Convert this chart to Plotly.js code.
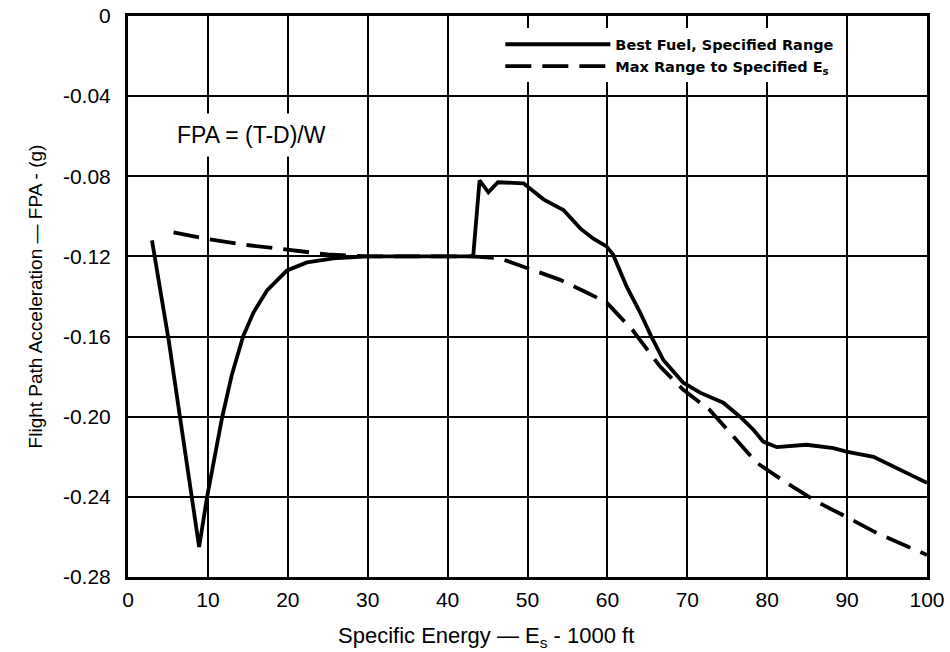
<!DOCTYPE html>
<html>
<head>
<meta charset="utf-8">
<script src="https://cdn.plot.ly/plotly-3.0.1.min.js"></script>
<style>body{margin:0;padding:0;background:#fff}#chart{width:950px;height:652px}</style>
</head>
<body>
<div id="chart"></div>
<script>
// Best Fuel, Specified Range (solid)
var bestFuelX = [3, 5.1, 6.5, 8.1, 8.9, 9.9, 11.8, 13.0, 14.4, 15.7, 17.4, 19.9, 22.4, 25.7, 30, 35, 40, 43.2, 44.0, 45.1, 46.3, 49.5, 52.0, 54.5, 56.6, 58.2, 59.9, 60.7, 62.4, 64.1, 65.5, 67.0, 69.5, 71.6, 74.5, 76.6, 78.3, 79.5, 81.2, 84.9, 88.3, 89.9, 93.3, 96.6, 100];
var bestFuelY = [-0.112, -0.162, -0.200, -0.242, -0.265, -0.240, -0.200, -0.179, -0.160, -0.148, -0.137, -0.127, -0.123, -0.121, -0.120, -0.120, -0.120, -0.120, -0.082, -0.088, -0.083, -0.0835, -0.0915, -0.0968, -0.106, -0.111, -0.115, -0.119, -0.135, -0.148, -0.160, -0.1717, -0.183, -0.188, -0.193, -0.200, -0.2066, -0.2124, -0.2152, -0.214, -0.2157, -0.2174, -0.220, -0.2265, -0.233];
// Max Range to Specified Es (dashed)
var maxRangeX = [5.7, 10, 14.9, 20, 25, 30, 35, 40, 43, 46.6, 50.7, 54.1, 57.4, 59.9, 63.2, 66.6, 69.5, 72.8, 75.8, 78.7, 82.4, 86.2, 89.9, 93.7, 100];
var maxRangeY = [-0.108, -0.1114, -0.1143, -0.1168, -0.119, -0.120, -0.120, -0.120, -0.120, -0.121, -0.1267, -0.1317, -0.138, -0.143, -0.157, -0.175, -0.1866, -0.1966, -0.210, -0.223, -0.233, -0.2424, -0.250, -0.258, -0.269];

var xTickVals = [0, 10, 20, 30, 40, 50, 60, 70, 80, 90, 100];
var xTickText = ["0", "10", "20", "30", "40", "50", "60", "70", "80", "90", "100"];
var yTickVals = [0, -0.04, -0.08, -0.12, -0.16, -0.20, -0.24, -0.28];
var yTickText = ["0", "-0.04", "-0.08", "-0.12", "-0.16", "-0.20", "-0.24", "-0.28"];

var seriesNames = ["Best Fuel, Specified Range", "Max Range to Specified E<sub>s</sub>"];
var xTitle = "Specific Energy \u2014 E<sub>s</sub> - 1000 ft";
var yTitle = "Flight Path Acceleration \u2014 FPA - (g)";
var noteText = "FPA = (T-D)/W";

var FONT = "Liberation Sans, Arial, Helvetica, sans-serif";

var traces = [
  {x: bestFuelX, y: bestFuelY, type: "scatter", mode: "lines", name: seriesNames[0],
   line: {color: "#000", width: 3.8}},
  {x: maxRangeX, y: maxRangeY, type: "scatter", mode: "lines", name: seriesNames[1],
   line: {color: "#000", width: 3.8, dash: "26px,11px"}}
];

var layout = {
  width: 950, height: 652,
  margin: {l: 128, r: 23, t: 16, b: 75},
  paper_bgcolor: "#fff", plot_bgcolor: "#fff",
  font: {family: FONT, color: "#000", size: 21},
  showlegend: true,
  legend: {
    x: 0.466, y: 0.978, xanchor: "left", yanchor: "top",
    bgcolor: "#fff", borderwidth: 0,
    font: {family: "DejaVu Sans, sans-serif", size: 14.5, color: "#000", weight: "bold"},
    itemwidth: 105, tracegroupgap: 0
  },
  xaxis: {
    range: [0, 100], tickvals: xTickVals, ticktext: xTickText,
    showgrid: true, gridcolor: "#000", gridwidth: 2,
    showline: true, linecolor: "#000", linewidth: 3, mirror: true,
    zeroline: false, ticks: "", ticklabelstandoff: 2,
    tickfont: {family: FONT, size: 21, color: "#000"}
  },
  yaxis: {
    range: [-0.28, 0], tickvals: yTickVals, ticktext: yTickText,
    showgrid: true, gridcolor: "#000", gridwidth: 2,
    showline: true, linecolor: "#000", linewidth: 3, mirror: true,
    zeroline: false, ticks: "", ticklabelstandoff: 10,
    tickfont: {family: FONT, size: 21, color: "#000"},
    title: {text: yTitle, font: {family: FONT, size: 19, color: "#000"}, standoff: 16}
  },
  annotations: [
    {x: 15.4, y: -0.0594, xref: "x", yref: "y", text: noteText, showarrow: false,
     font: {family: FONT, size: 23, color: "#000"}, bgcolor: "#fff", borderpad: 8},
    {x: 0.448, y: -0.107, xref: "paper", yref: "paper", xanchor: "center", yanchor: "middle",
     text: xTitle, showarrow: false, font: {family: FONT, size: 22, color: "#000"}}
  ]
};

Plotly.newPlot("chart", traces, layout, {displayModeBar: false, staticPlot: true});
</script>
</body>
</html>
